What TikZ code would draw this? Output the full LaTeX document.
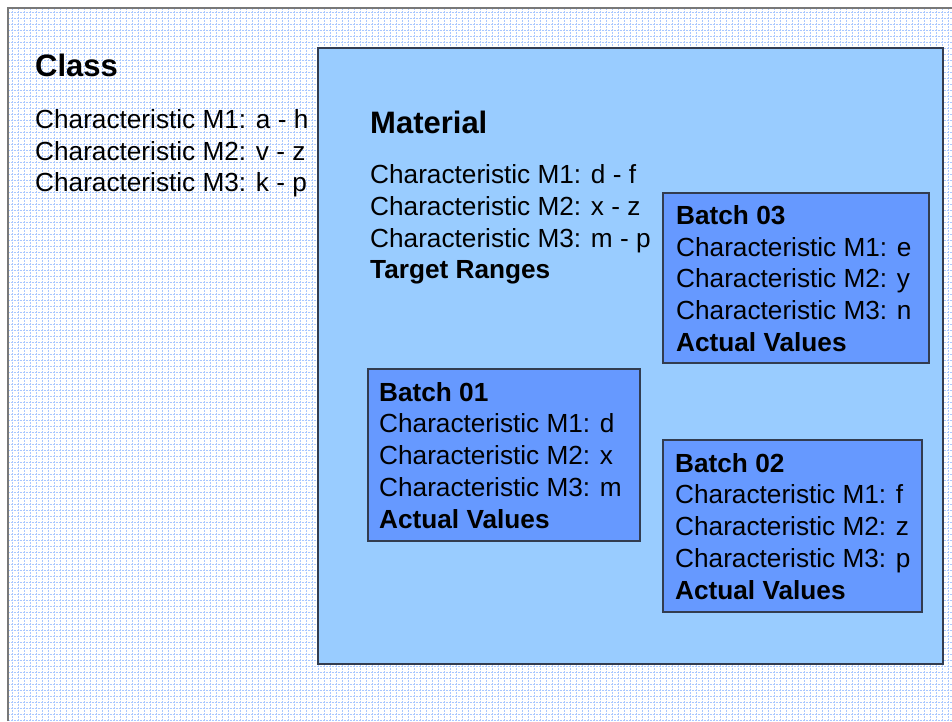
\documentclass[tikz,border=0pt]{standalone}
\usepackage{fontspec}
\setmainfont{Liberation Sans}
\definecolor{gridc}{RGB}{170,200,255}
\definecolor{matfill}{RGB}{153,204,255}
\definecolor{batfill}{RGB}{102,153,255}
\definecolor{edgec}{RGB}{50,60,80}
\definecolor{frame}{RGB}{120,120,120}
\tikzset{
  body/.style={anchor=base west, inner sep=0pt, font=\fontsize{26.2}{31.7}\selectfont},
  head/.style={anchor=base west, inner sep=0pt, font=\fontsize{26.2}{31.7}\selectfont\bfseries},
  bigtitle/.style={anchor=base west, inner sep=0pt, font=\fontsize{31}{36}\selectfont\bfseries},
  matbox/.style={draw=edgec, line width=1.6pt, fill=matfill},
  batbox/.style={draw=edgec, line width=1.2pt, fill=batfill},
  gridline/.style={draw=gridc, line width=0.6pt, dash pattern=on 2pt off 1pt},
}
\begin{document}
\begin{tikzpicture}[x=1pt,y=-1pt]
\useasboundingbox (0,0) rectangle (952,721);
\fill[white] (0,0) rectangle (952,721);
% grid
\foreach \gx in {12.3,18.3,...,952} {\draw[gridline] (\gx,8) -- (\gx,721);}
\foreach \gy in {12.3,18.3,...,721} {\draw[gridline] (8,\gy) -- (952,\gy);}
\draw[frame, line width=1.5pt] (8,721) -- (8,8) -- (952,8);
% class
\node[bigtitle] (classT) at (35,76) {Class};
\node[body] (c1) at (35,128.5) {Characteristic M1: a - h};
\node[body] (c2) at (35,160.2) {Characteristic M2: v - z};
\node[body] (c3) at (35,191.9) {Characteristic M3: k - p};
% material
\path[matbox] (318,48) rectangle (943,664);
\node[bigtitle] (matT) at (370,133.5) {Material};
\node[body] (m1) at (370,183.8) {Characteristic M1: d - f};
\node[body] (m2) at (370,215.5) {Characteristic M2: x - z};
\node[body] (m3) at (370,247.2) {Characteristic M3: m - p};
\node[head] (m4) at (370,278.9) {Target Ranges};
% batch 03
\path[batbox] (663,193) rectangle (929,363);
\node[head] (b3t) at (676,224.5) {Batch 03};
\node[body] (b31) at (676,256.2) {Characteristic M1: e};
\node[body] (b32) at (676,287.9) {Characteristic M2: y};
\node[body] (b33) at (676,319.6) {Characteristic M3: n};
\node[head] (b34) at (676,351.3) {Actual Values};
% batch 01
\path[batbox] (368,369) rectangle (640,541);
\node[head] (b1t) at (379,401.2) {Batch 01};
\node[body] (b11) at (379,432.9) {Characteristic M1: d};
\node[body] (b12) at (379,464.6) {Characteristic M2: x};
\node[body] (b13) at (379,496.3) {Characteristic M3: m};
\node[head] (b14) at (379,528) {Actual Values};
% batch 02
\path[batbox] (663,440) rectangle (922,612);
\node[head] (b2t) at (675,472.2) {Batch 02};
\node[body] (b21) at (675,503.9) {Characteristic M1: f};
\node[body] (b22) at (675,535.6) {Characteristic M2: z};
\node[body] (b23) at (675,567.3) {Characteristic M3: p};
\node[head] (b24) at (675,599) {Actual Values};
\end{tikzpicture}
\end{document}
